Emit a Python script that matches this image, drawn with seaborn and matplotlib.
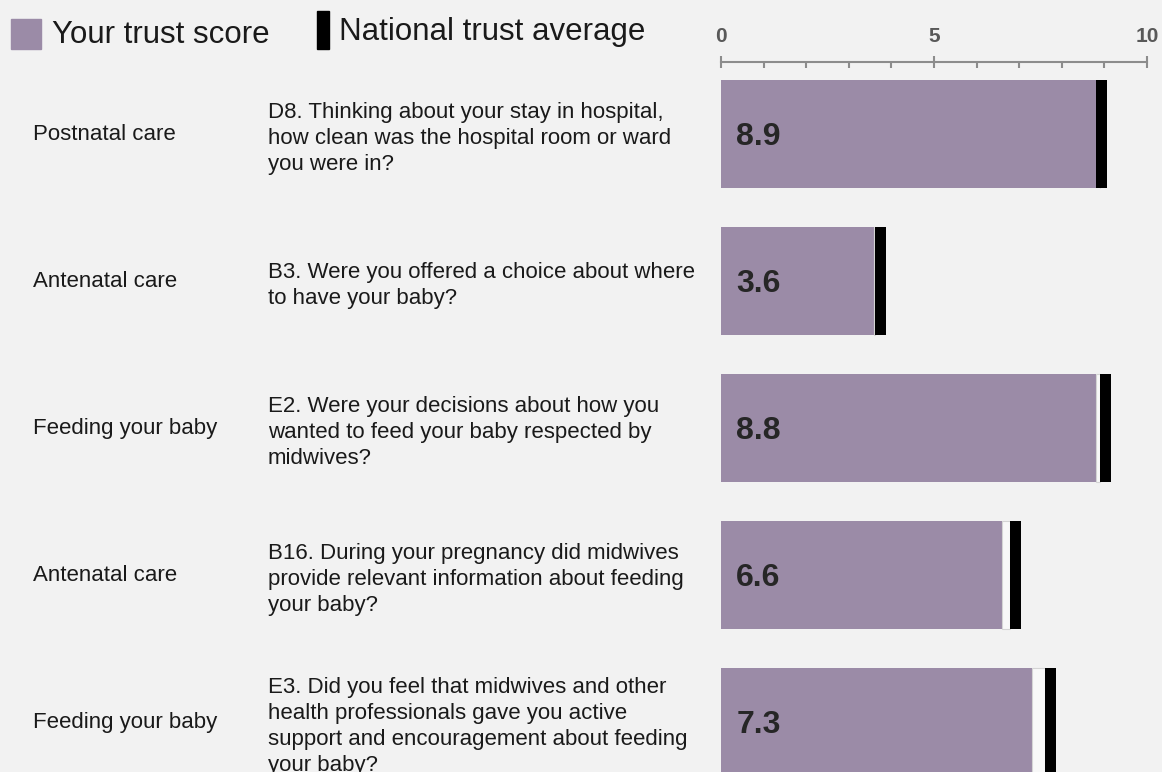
import pandas as pd
import matplotlib
matplotlib.use('Agg')
import matplotlib.pyplot as plt
import matplotlib.transforms as mtransforms
from matplotlib.patches import Rectangle
from matplotlib.ticker import MultipleLocator
import seaborn as sns

# Data
categories = ['Postnatal care', 'Antenatal care', 'Feeding your baby',
              'Antenatal care', 'Feeding your baby']
questions = [
    'D8. Thinking about your stay in hospital,\nhow clean was the hospital room or ward\nyou were in?',
    'B3. Were you offered a choice about where\nto have your baby?',
    'E2. Were your decisions about how you\nwanted to feed your baby respected by\nmidwives?',
    'B16. During your pregnancy did midwives\nprovide relevant information about feeding\nyour baby?',
    'E3. Did you feel that midwives and other\nhealth professionals gave you active\nsupport and encouragement about feeding\nyour baby?',
]
trust_scores = [8.9, 3.6, 8.8, 6.6, 7.3]
national_avg = [8.93, 3.74, 9.03, 6.91, 7.73]
score_labels = ['8.9', '3.6', '8.8', '6.6', '7.3']
x_ticks = [0, 5, 10]

purple = '#9b8ba7'
bg = '#f2f2f2'
marker_w = 0.26

df = pd.DataFrame({'row': range(len(trust_scores)), 'score': trust_scores,
                   'national': national_avg})

sns.set_style('white')
plt.rcParams['font.family'] = ['Liberation Sans', 'DejaVu Sans']

fig = plt.figure(figsize=(11.62, 7.72), dpi=100, facecolor=bg)
ax = fig.add_axes([0.6205, 0.0, 0.3666, 0.9197])
ax.set_facecolor(bg)

sns.barplot(data=df, x='score', y='row', orient='h', color=purple,
            width=0.735, saturation=1, ax=ax, linewidth=0)

# gap between trust score and national average marker
gap = (df['national'] - marker_w / 2 - df['score']).clip(lower=0)
ax.barh(df['row'], gap, left=df['score'], height=0.735,
        color='#f8f8f8', edgecolor='#d4d4d4', linewidth=0.8)
# national average marker
ax.barh(df['row'], marker_w, left=df['national'] - marker_w / 2,
        height=0.735, color='black', linewidth=0)

for i, lab in enumerate(score_labels):
    ax.text(0.36, i + 0.02, lab, va='center', ha='left', fontsize=23,
            fontweight='bold', color='#262626')

ax.set_xlim(0, 10)
ax.set_ylim(4.34, -0.49)
ax.xaxis.tick_top()
ax.set_xticks(x_ticks)
ax.xaxis.set_minor_locator(MultipleLocator(1))
ax.tick_params(axis='x', which='major', direction='inout', length=9,
               width=1.5, color='#8c8c8c', pad=7, labelsize=15,
               labelcolor='#595959')
ax.tick_params(axis='x', which='minor', direction='in', length=4,
               width=1.5, color='#8c8c8c')
for lab in ax.get_xticklabels():
    lab.set_fontweight('bold')
ax.set_yticks([])
ax.set_xlabel('')
ax.set_ylabel('')
for side in ['bottom', 'left', 'right']:
    ax.spines[side].set_visible(False)
ax.spines['top'].set_color('#8c8c8c')
ax.spines['top'].set_linewidth(1.5)

# row labels on the left
trans = mtransforms.blended_transform_factory(fig.transFigure, ax.transData)
for i, (cat, q) in enumerate(zip(categories, questions)):
    ax.text(33 / 1162, i, cat, transform=trans, va='center', ha='left',
            fontsize=16, color='#1a1a1a', clip_on=False)
    ax.text(268 / 1162, i + 0.03, q, transform=trans, va='center', ha='left',
            fontsize=16, color='#1a1a1a', linespacing=1.32, clip_on=False)

# legend
fig.patches.append(Rectangle((11 / 1162, 1 - 49 / 772), 30 / 1162, 30 / 772,
                             color=purple, transform=fig.transFigure))
fig.text(52 / 1162, 1 - 43 / 772, 'Your trust score', fontsize=22.5,
         va='baseline', ha='left', color='#1a1a1a')
fig.patches.append(Rectangle((317 / 1162, 1 - 49 / 772), 12 / 1162, 38 / 772,
                             color='black', transform=fig.transFigure))
fig.text(339 / 1162, 1 - 40 / 772, 'National trust average', fontsize=22.5,
         va='baseline', ha='left', color='#1a1a1a')

fig.savefig('out.png', dpi=100, facecolor=bg)
